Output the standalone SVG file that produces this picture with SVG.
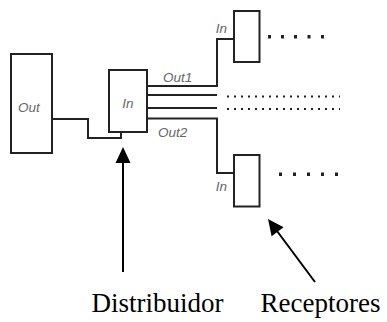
<svg xmlns="http://www.w3.org/2000/svg" width="387" height="322" viewBox="0 0 387 322">
<defs>
<style>
.box{fill:#fff;stroke:#222;stroke-width:2}
.wire{fill:none;stroke:#222;stroke-width:2}
.lbl{font-family:"Liberation Sans",Arial,sans-serif;font-style:italic;font-size:13.5px;fill:#666}
.cap{font-family:"Liberation Serif","Times New Roman",serif;font-size:27px;fill:#000}
.dots{fill:none;stroke:#222;stroke-width:2;stroke-dasharray:2 5}
.bigdot{fill:#222}
.arr{fill:none;stroke:#000;stroke-width:2}
</style>
</defs>
<rect width="387" height="322" fill="#fff"/>
<g id="connectors">
<path class="wire" d="M52,119 H88 V138 H121 V132"/>
<path class="wire" d="M147,86 H217 V39 H234"/>
<path class="wire" d="M147,95 H217"/>
<path class="wire" d="M147,108 H217"/>
<path class="wire" d="M147,118.5 H217 V173 H234"/>
<path class="dots" d="M227,96.5 H340"/>
<path class="dots" d="M227,109 H340"/>
</g>
<g id="out">
<rect class="box" x="11" y="54" width="41" height="99"/>
<text class="lbl" x="29" y="112" text-anchor="middle">Out</text>
</g>
<g id="distribuidor-node">
<rect class="box" x="109" y="70" width="38" height="62"/>
<text class="lbl" x="128" y="108" text-anchor="middle">In</text>
<text class="lbl" x="163" y="82">Out1</text>
<text class="lbl" x="158" y="137">Out2</text>
</g>
<g id="receptor1">
<rect class="box" x="234" y="11" width="25.5" height="51"/>
<text class="lbl" x="221.5" y="33" text-anchor="middle">In</text>
<g class="bigdot">
<rect x="268" y="35" width="3" height="3.5"/>
<rect x="281" y="35" width="3" height="3.5"/>
<rect x="294" y="35" width="3" height="3.5"/>
<rect x="307.5" y="35" width="3" height="3.5"/>
<rect x="321" y="35" width="3" height="3.5"/>
</g>
</g>
<g id="receptor2">
<rect class="box" x="234" y="155" width="25.5" height="51.5"/>
<text class="lbl" x="221.5" y="191" text-anchor="middle">In</text>
<g class="bigdot">
<rect x="279" y="172.5" width="3" height="3.5"/>
<rect x="293" y="172.5" width="3" height="3.5"/>
<rect x="307" y="172.5" width="3" height="3.5"/>
<rect x="321" y="172.5" width="3" height="3.5"/>
<rect x="335" y="172.5" width="3" height="3.5"/>
</g>
</g>
<g id="arrow-distribuidor">
<line class="arr" x1="123" y1="162" x2="123" y2="272"/>
<polygon points="123,147 115.5,163 130.5,163" fill="#000"/>
<text class="cap" x="91.5" y="311.5">Distribuidor</text>
</g>
<g id="arrow-receptores">
<line class="arr" x1="277" y1="231" x2="315" y2="282"/>
<polygon points="268,219 283.6,227.3 271.6,236.3" fill="#000"/>
<text class="cap" x="260.5" y="311.5">Receptores</text>
</g>
</svg>
